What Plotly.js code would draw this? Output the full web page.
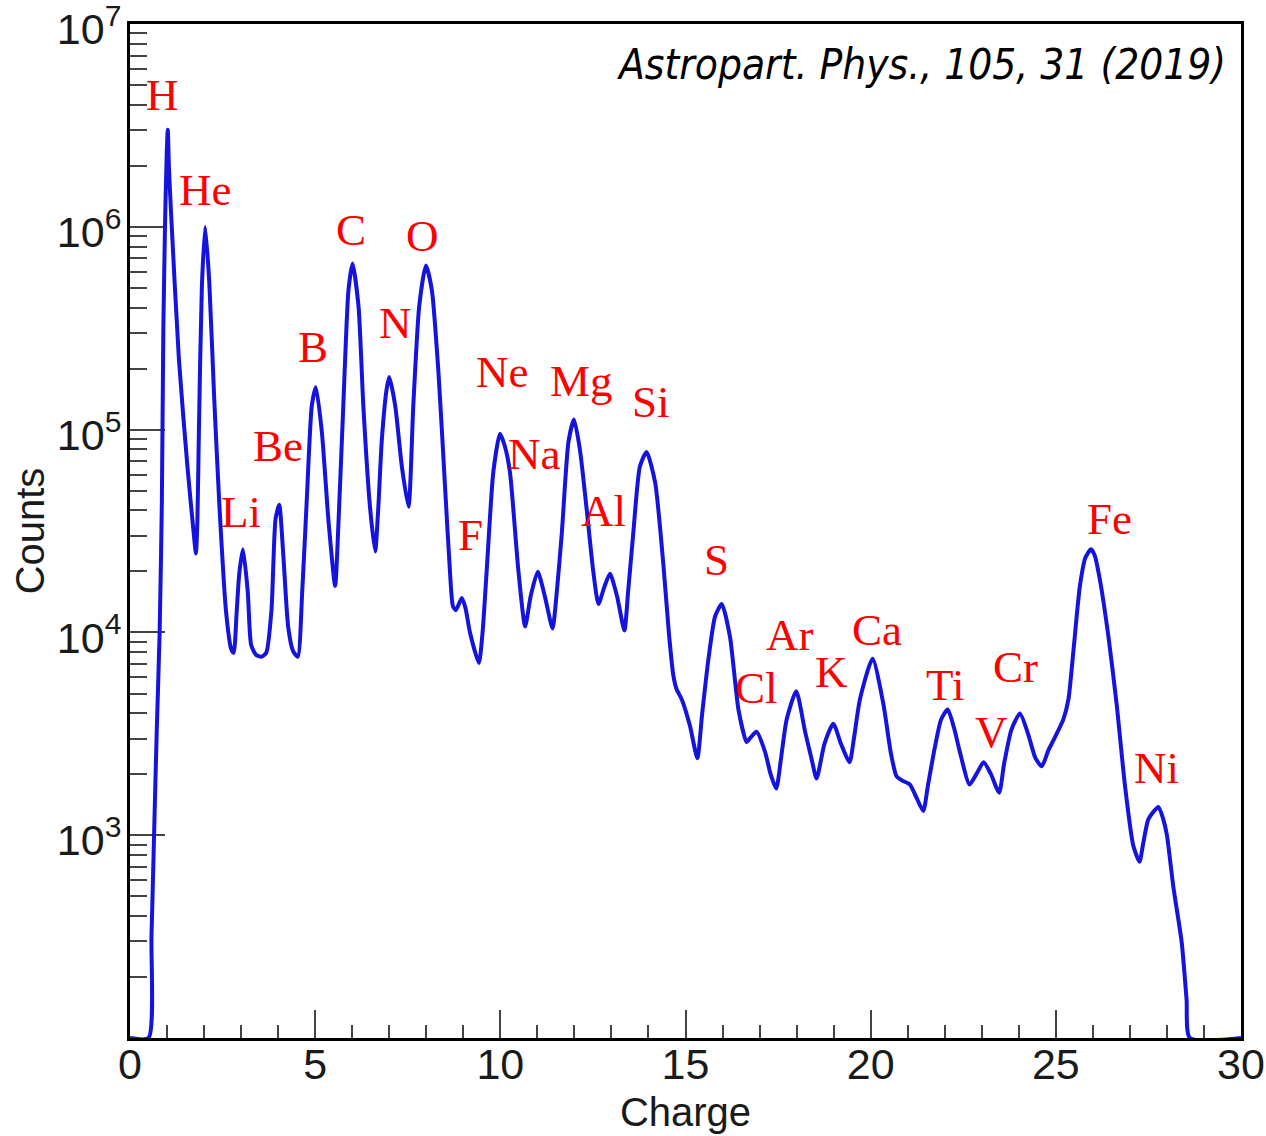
<!DOCTYPE html>
<html>
<head>
<meta charset="utf-8">
<script src="https://cdn.plot.ly/plotly-3.0.1.min.js"></script>
<style>
  html, body { margin: 0; padding: 0; background: #ffffff; }
  #chart { width: 1266px; height: 1136px; }
</style>
</head>
<body>
<div id="chart"></div>
<script>
// Charge values (x) of the traced spectrum
const charge = [
  0.00, 0.50, 0.58, 0.65, 0.72, 0.80, 0.86, 0.90, 0.95, 0.99, 1.02, 1.05, 1.10,
  1.32, 1.55, 1.73, 1.78, 1.82, 1.86, 1.94, 2.03, 2.14, 2.27, 2.41, 2.59, 2.73,
  2.80, 2.88, 2.95, 3.05, 3.18, 3.27, 3.40, 3.55, 3.68, 3.82, 3.93, 4.03, 4.14,
  4.27, 4.40, 4.53, 4.65, 4.77, 4.91, 5.02, 5.18, 5.36, 5.54, 5.62, 5.76, 5.90,
  6.01, 6.17, 6.30, 6.48, 6.62, 6.70, 6.80, 6.93, 7.00, 7.16, 7.34, 7.52, 7.65,
  7.81, 7.99, 8.15, 8.33, 8.51, 8.64, 8.72, 8.80, 8.96, 9.06, 9.18, 9.42, 9.52,
  9.63, 9.81, 9.99, 10.12, 10.26, 10.49, 10.67, 10.82, 11.01, 11.20, 11.41, 11.50,
  11.66, 11.84, 11.99, 12.15, 12.33, 12.51, 12.65, 12.80, 12.96, 13.15, 13.35,
  13.45, 13.59, 13.77, 13.95, 14.18, 14.40, 14.55, 14.67, 14.76, 14.90, 15.12,
  15.32, 15.45, 15.62, 15.80, 15.98, 16.20, 16.43, 16.65, 16.75, 16.92, 17.15,
  17.30, 17.45, 17.58, 17.73, 17.99, 18.23, 18.40, 18.54, 18.75, 18.99, 19.20,
  19.43, 19.55, 19.71, 20.05, 20.34, 20.55, 20.70, 20.85, 21.06, 21.25, 21.42,
  21.55, 21.74, 21.90, 22.08, 22.25, 22.41, 22.67, 22.85, 23.05, 23.25, 23.47,
  23.60, 23.80, 24.03, 24.25, 24.45, 24.62, 24.80, 24.94, 25.20, 25.34, 25.47,
  25.65, 25.80, 25.95, 26.05, 26.19, 26.42, 26.64, 26.87, 27.09, 27.26, 27.35,
  27.50, 27.77, 27.90, 28.00, 28.17, 28.40, 28.53, 28.62, 30.00
];
// log10(Counts) at each charge value
const logCounts = [
  2.00, 2.00, 2.50, 3.00, 3.50, 4.00, 4.64, 5.49, 6.05, 6.35, 6.48, 6.30, 6.10,
  5.35, 4.82, 4.47, 4.39, 4.55, 4.99, 5.70, 6.00, 5.73, 5.17, 4.64, 4.11, 3.92,
  3.90, 4.10, 4.29, 4.41, 4.20, 3.94, 3.89, 3.88, 3.90, 4.11, 4.56, 4.63, 4.38,
  4.03, 3.91, 3.88, 4.20, 4.64, 5.12, 5.21, 4.99, 4.55, 4.23, 4.50, 5.12, 5.69,
  5.82, 5.61, 5.12, 4.62, 4.40, 4.60, 4.95, 5.20, 5.26, 5.12, 4.82, 4.62, 5.12,
  5.61, 5.81, 5.69, 5.28, 4.71, 4.30, 4.13, 4.11, 4.17, 4.12, 4.00, 3.85, 4.00,
  4.30, 4.79, 4.98, 4.92, 4.79, 4.30, 4.03, 4.18, 4.30, 4.18, 4.02, 4.15,
  4.49, 4.94, 5.05, 4.90, 4.61, 4.30, 4.14, 4.22, 4.29, 4.18, 4.01,
  4.20, 4.49, 4.82, 4.89, 4.74, 4.34, 4.00, 3.79, 3.72, 3.67, 3.54,
  3.38, 3.60, 3.87, 4.08, 4.14, 3.98, 3.62, 3.46, 3.48, 3.51, 3.41,
  3.30, 3.23, 3.38, 3.57, 3.71, 3.51, 3.38, 3.28, 3.45, 3.55, 3.45,
  3.36, 3.48, 3.67, 3.87, 3.65, 3.40, 3.29, 3.27, 3.25, 3.18, 3.12,
  3.25, 3.44, 3.57, 3.62, 3.53, 3.41, 3.25, 3.30, 3.36, 3.30, 3.21,
  3.35, 3.52, 3.60, 3.50, 3.38, 3.34, 3.42, 3.47, 3.57, 3.67, 3.90,
  4.23, 4.37, 4.41, 4.38, 4.26, 3.98, 3.65, 3.24, 2.95, 2.87, 2.95,
  3.08, 3.14, 3.08, 3.00, 2.75, 2.47, 2.19, 2.00, 2.00
];
const counts = logCounts.map(v => Math.round(Math.pow(10, v)));

// Element labels
const elements = ["H","He","Li","Be","B","C","N","O","F","Ne","Na","Mg","Al","Si",
                  "S","Cl","Ar","K","Ca","Ti","V","Cr","Fe","Ni"];
const labelCharge = [0.89, 2.03, 3.00, 4.00, 4.94, 5.97, 7.18, 7.91, 9.19, 10.05, 10.91, 12.18, 12.78, 14.07,
                     15.83, 16.93, 17.82, 18.93, 20.17, 22.01, 23.25, 23.90, 26.44, 27.73];
const labelLogY = [6.652, 6.184, 4.593, 4.918, 5.406, 5.987, 5.524, 5.953, 4.479, 5.287, 4.878, 5.238, 4.597, 5.135,
                   4.356, 3.726, 3.987, 3.804, 4.011, 3.740, 3.508, 3.829, 4.558, 3.331];

// Axis ticks
const yTickVals = [1e3, 1e4, 1e5, 1e6, 1e7];
const yTickText = ["10<sup>3</sup>", "10<sup>4</sup>", "10<sup>5</sup>", "10<sup>6</sup>", "10<sup>7</sup>"];
const yMinorVals = [];
for (let e = 2; e < 7; e++) for (let m = 2; m <= 9; m++) yMinorVals.push(m * Math.pow(10, e));

const citation = "Astropart. Phys., 105, 31 (2019)";

const trace = {
  x: charge,
  y: counts,
  type: "scatter",
  mode: "lines",
  line: { color: "#1414dc", width: 4, shape: "spline", smoothing: 0.6 },
  hoverinfo: "skip"
};

const annotations = elements.map((el, i) => ({
  text: el,
  x: labelCharge[i],
  y: labelLogY[i],
  xref: "x", yref: "y",
  xanchor: "center", yanchor: "middle",
  showarrow: false,
  font: { family: "Liberation Serif, Times New Roman, serif", size: 45, color: "#ff0000" }
}));
annotations.push({
  text: "<i>" + citation + "</i>",
  xref: "paper", yref: "paper",
  x: 0.988, y: 0.96,
  xanchor: "right", yanchor: "middle",
  showarrow: false,
  font: { family: "DejaVu Sans Condensed, DejaVu Sans, sans-serif", size: 42, color: "#000000" }
});

const tickFont = { family: "Liberation Sans, Arial, Helvetica, sans-serif", size: 43, color: "#1a1a1a" };
const titleFont = { family: "Liberation Sans, Arial, Helvetica, sans-serif", size: 40, color: "#1a1a1a" };

const layout = {
  width: 1266,
  height: 1136,
  margin: { l: 130, r: 25, t: 24, b: 98 },
  paper_bgcolor: "#ffffff",
  plot_bgcolor: "#ffffff",
  showlegend: false,
  xaxis: {
    range: [0, 30],
    showgrid: false, zeroline: false,
    showline: true, linecolor: "#000000", linewidth: 3, mirror: true,
    layer: "below traces",
    tickmode: "linear", tick0: 0, dtick: 5,
    ticks: "inside", ticklen: 28, tickwidth: 2, tickcolor: "#444444",
    minor: { tickmode: "linear", tick0: 0, dtick: 1, ticks: "inside", ticklen: 13, tickwidth: 2, tickcolor: "#444444", showgrid: false },
    tickfont: tickFont,
    ticklabelstandoff: -14,
    title: { text: "Charge", font: titleFont, standoff: 12 }
  },
  yaxis: {
    type: "log",
    range: [2, 7.001],
    showgrid: false, zeroline: false,
    showline: true, linecolor: "#000000", linewidth: 3, mirror: true,
    layer: "below traces",
    tickmode: "array", tickvals: yTickVals, ticktext: yTickText,
    ticks: "inside", ticklen: 35, tickwidth: 2, tickcolor: "#444444",
    minor: { tickmode: "array", tickvals: yMinorVals, ticks: "inside", ticklen: 17, tickwidth: 2, tickcolor: "#444444", showgrid: false },
    tickfont: tickFont,
    ticklabelstandoff: -3,
    ticklabelshift: 5,
    ticklabeloverflow: "allow",
    title: { text: "Counts", font: titleFont, standoff: 0 }
  },
  annotations: annotations
};

Plotly.newPlot("chart", [trace], layout, { displayModeBar: false, staticPlot: true });
</script>
</body>
</html>
